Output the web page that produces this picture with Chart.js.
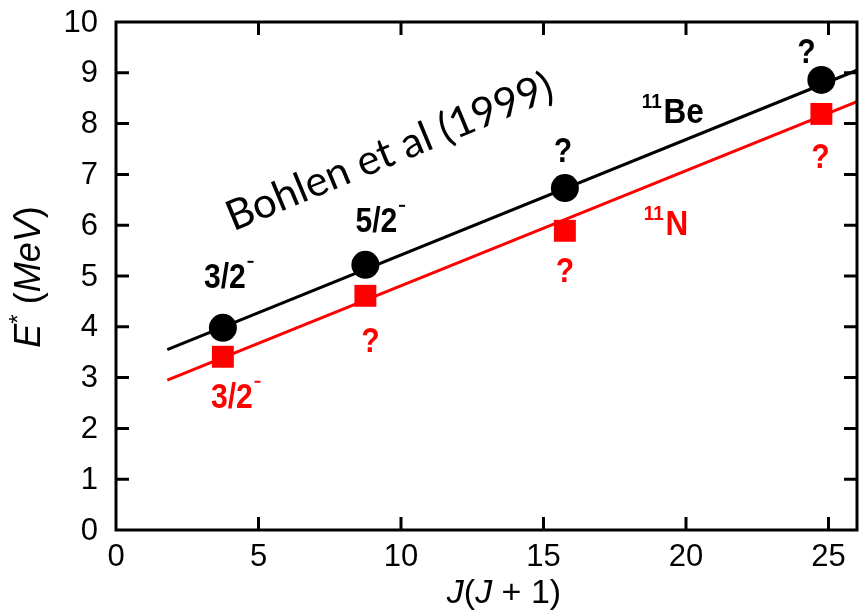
<!DOCTYPE html>
<html>
<head>
<meta charset="utf-8">
<script src="https://cdn.jsdelivr.net/npm/chart.js@4/dist/chart.umd.min.js"></script>
<style>
  html, body { margin: 0; padding: 0; background: #fff; overflow: hidden; }
  #wrap { width: 859px; height: 610px; position: relative; }
</style>
</head>
<body>
<div id="wrap"><canvas id="myChart"></canvas></div>
<script>
// J(J+1) for J = 3/2, 5/2, 7/2, 9/2
var jj = [3.75, 8.75, 15.75, 24.75];
// excitation energies (MeV)
var be11 = [3.98, 5.22, 6.73, 8.86];
var n11 = [3.41, 4.61, 5.89, 8.19];
// straight-line fits, end points
var be11FitX = [1.8, 26];
var be11FitY = [3.55, 9.05];
var n11FitX = [1.8, 26];
var n11FitY = [2.95, 8.43];
// spin labels
var be11Labels = ['3/2-', '5/2-', '?', '?'];
var n11Labels = ['3/2-', '?', '?', '?'];
var xTicks = [0, 5, 10, 15, 20, 25];
var yTicks = [0, 1, 2, 3, 4, 5, 6, 7, 8, 9, 10];

var RED = '#ff0000';
var FONT = '"Liberation Sans", Arial, Helvetica, sans-serif';

function pts(xs, ys) {
    return xs.map(function (x, i) { return { x: x, y: ys[i] }; });
}

// text like "3/2-" gets the parity sign as a small raised dash
function drawSpin(ctx, text, cx, baseline, color) {
    ctx.save();
    ctx.translate(cx, baseline);
    ctx.scale(0.86, 1);
    ctx.fillStyle = color;
    ctx.font = 'bold 35px ' + FONT;
    ctx.textBaseline = 'alphabetic';
    ctx.textAlign = 'left';
    var parity = text.slice(-1) === '-';
    var main = parity ? text.slice(0, -1) : text;
    var w = ctx.measureText(main).width;
    ctx.fillText(main, -w / 2, 0);
    if (parity) {
        ctx.fillRect(w / 2 + 2, -27, 7, 2);
    }
    ctx.restore();
}

// label offsets (px) from each marker: [dx, baseline dy]
var beOffsets = [[2, -40], [11, -33], [-2, -26], [-15, -17]];
var nOffsets = [[9, 51], [5, 56], [0, 51], [-1, 54]];

var annotations = {
    id: 'annotations',
    afterDatasetsDraw: function (chart) {
        var ctx = chart.ctx;
        var xs = chart.scales.x, ys = chart.scales.y;
        var a = chart.chartArea;

        // frame with inward ticks on all four sides
        ctx.save();
        ctx.strokeStyle = '#000';
        ctx.lineWidth = 3;
        ctx.strokeRect(a.left, a.top, a.right - a.left, a.bottom - a.top);
        ctx.beginPath();
        xTicks.forEach(function (t) {
            if (t === 0) return;
            var px = xs.getPixelForValue(t);
            ctx.moveTo(px, a.bottom); ctx.lineTo(px, a.bottom - 13);
            ctx.moveTo(px, a.top); ctx.lineTo(px, a.top + 13);
        });
        yTicks.forEach(function (t) {
            if (t === 0 || t === 10) return;
            var py = ys.getPixelForValue(t);
            ctx.moveTo(a.left, py); ctx.lineTo(a.left + 13, py);
            ctx.moveTo(a.right, py); ctx.lineTo(a.right - 13, py);
        });
        ctx.stroke();

        // tick labels
        ctx.fillStyle = '#000';
        ctx.font = '31px ' + FONT;
        ctx.textAlign = 'center';
        ctx.textBaseline = 'alphabetic';
        xTicks.forEach(function (t) {
            ctx.fillText(String(t), xs.getPixelForValue(t), a.bottom + 36);
        });
        ctx.textAlign = 'right';
        ctx.textBaseline = 'middle';
        yTicks.forEach(function (t) {
            ctx.fillText(String(t), a.left - 18, ys.getPixelForValue(t) + 1);
        });
        ctx.restore();

        // spin labels
        jj.forEach(function (x, i) {
            var px = xs.getPixelForValue(x);
            drawSpin(ctx, be11Labels[i], px + beOffsets[i][0], ys.getPixelForValue(be11[i]) + beOffsets[i][1], '#000');
            drawSpin(ctx, n11Labels[i], px + nOffsets[i][0], ys.getPixelForValue(n11[i]) + nOffsets[i][1], RED);
        });

        // nucleus names
        function nucleus(sym, x, y, color) {
            var px = xs.getPixelForValue(x), py = ys.getPixelForValue(y);
            ctx.save();
            ctx.translate(px, py);
            ctx.scale(0.9, 1);
            ctx.fillStyle = color;
            ctx.textAlign = 'left';
            ctx.textBaseline = 'alphabetic';
            ctx.font = 'bold 21px ' + FONT;
            ctx.fillText('11', 0, -15);
            var w = ctx.measureText('11').width;
            ctx.font = 'bold 35px ' + FONT;
            ctx.fillText(sym, w + 2, 0);
            ctx.restore();
        }
        nucleus('Be', 18.45, 8.01, '#000');
        nucleus('N', 18.52, 5.81, RED);

        // reference note
        ctx.save();
        ctx.translate(xs.getPixelForValue(9.6), ys.getPixelForValue(7.44));
        ctx.rotate(-22.5 * Math.PI / 180);
        ctx.fillStyle = '#000';
        ctx.font = '42px Lato, "Open Sans", sans-serif';
        ctx.textAlign = 'center';
        ctx.textBaseline = 'middle';
        ctx.fillText('Bohlen et al (1999)', 0, 0);
        ctx.restore();

        // axis titles
        ctx.save();
        ctx.fillStyle = '#000';
        ctx.textBaseline = 'alphabetic';
        ctx.textAlign = 'left';
        var parts = [['J', true], ['(', false], ['J', true], [' + 1)', false]];
        var total = 0;
        parts.forEach(function (p) {
            ctx.font = (p[1] ? 'italic ' : '') + '34px ' + FONT;
            total += ctx.measureText(p[0]).width;
        });
        var x0 = 504 - total / 2;
        parts.forEach(function (p) {
            ctx.font = (p[1] ? 'italic ' : '') + '34px ' + FONT;
            ctx.fillText(p[0], x0, 603);
            x0 += ctx.measureText(p[0]).width;
        });
        ctx.restore();

        ctx.save();
        ctx.translate(40, 277);
        ctx.rotate(-Math.PI / 2);
        ctx.fillStyle = '#000';
        ctx.textBaseline = 'alphabetic';
        ctx.textAlign = 'left';
        var yparts = [['E', 'italic 36px ', 0], ['*', '24px ', -14], [' (', '36px ', 0], ['MeV', 'italic 36px ', 0], [')', '36px ', 0]];
        var tw = 0;
        yparts.forEach(function (p) { ctx.font = p[1] + FONT; tw += ctx.measureText(p[0]).width; });
        var y0 = -tw / 2;
        yparts.forEach(function (p) {
            ctx.font = p[1] + FONT;
            ctx.fillText(p[0], y0, p[2]);
            y0 += ctx.measureText(p[0]).width;
        });
        ctx.restore();
    }
};

var ctx = document.getElementById('myChart').getContext('2d');
var chart = new Chart(ctx, {
    type: 'scatter',
    data: {
        datasets: [{
            label: '11Be',
            data: pts(jj, be11),
            pointStyle: 'circle',
            pointRadius: 14,
            backgroundColor: '#000',
            borderWidth: 0,
            order: 0
        }, {
            label: '11N',
            data: pts(jj, n11),
            pointStyle: 'rect',
            pointRadius: 15.5,
            backgroundColor: RED,
            borderWidth: 0,
            order: 1
        }, {
            label: '11Be fit',
            data: pts(be11FitX, be11FitY),
            showLine: true,
            borderColor: '#000',
            borderWidth: 3,
            pointRadius: 0,
            order: 2
        }, {
            label: '11N fit',
            data: pts(n11FitX, n11FitY),
            showLine: true,
            borderColor: RED,
            borderWidth: 3,
            pointRadius: 0,
            order: 3
        }]
    },
    options: {
        responsive: true,
        maintainAspectRatio: false,
        animation: false,
        layout: { autoPadding: false, padding: { top: 22, right: 2, left: 0, bottom: 0 } },
        plugins: {
            legend: { display: false },
            tooltip: { enabled: false }
        },
        scales: {
            x: {
                type: 'linear',
                min: 0,
                max: 26,
                grid: { display: false, drawTicks: false },
                border: { display: false },
                ticks: { display: false },
                afterFit: function (s) { s.height = 80; }
            },
            y: {
                min: 0,
                max: 10,
                grid: { display: false, drawTicks: false },
                border: { display: false },
                ticks: { display: false },
                afterFit: function (s) { s.width = 116; }
            }
        }
    },
    plugins: [annotations]
});
</script>
</body>
</html>
